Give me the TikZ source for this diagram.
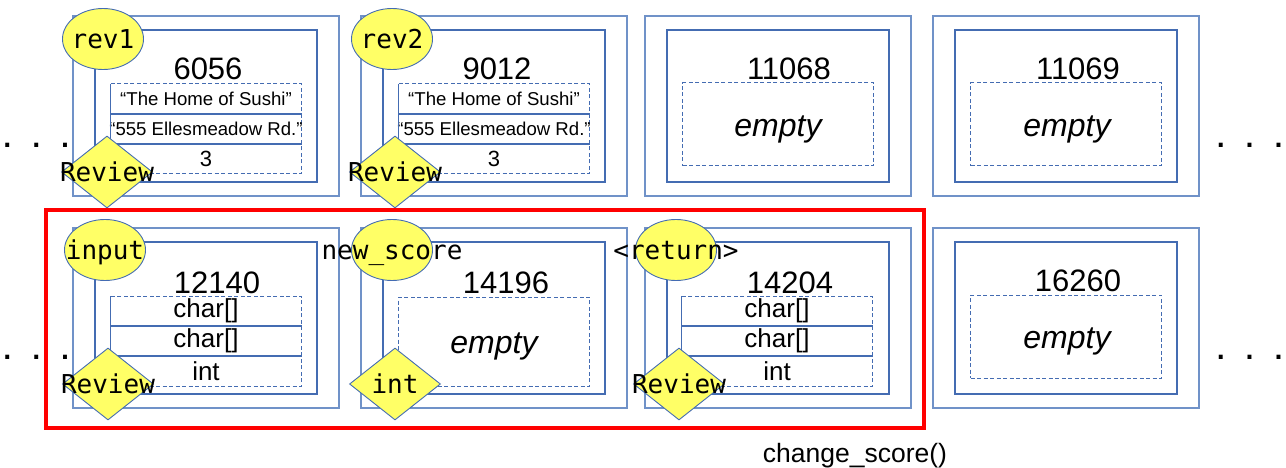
\documentclass[tikz,border=0pt]{standalone}
\usepackage{fontspec}
\setmainfont{Liberation Sans}
\setmonofont{DejaVu Sans Mono}
\usetikzlibrary{shapes.geometric,positioning}

\definecolor{outerline}{RGB}{112,146,200}
\definecolor{innerline}{RGB}{68,108,178}
\definecolor{varyellow}{RGB}{255,255,102}
\definecolor{callred}{RGB}{255,0,0}

\tikzset{
  outerbox/.style={draw=outerline, line width=1.2pt, minimum width=266pt,
    minimum height=180pt, inner sep=0pt, outer sep=0pt},
  innerbox/.style={draw=innerline, line width=1.2pt, minimum width=222pt,
    minimum height=152pt, inner sep=0pt, outer sep=0pt},
  slot/.style={draw=innerline, line width=1pt, dash pattern=on 4pt off 2.5pt,
    minimum width=191pt, minimum height=83pt, inner sep=0pt, outer sep=0pt},
  cell/.style={minimum width=191pt, minimum height=30pt, inner sep=0pt, outer sep=0pt},
  rowline/.style={draw=innerline, line width=1.1pt},
  addr/.style={font=\fontsize{31}{31}\selectfont, inner sep=0pt, anchor=base},
  emptytxt/.style={font=\fontsize{32}{32}\selectfont\itshape, inner sep=0pt, anchor=base},
  varell/.style={ellipse, draw=innerline, line width=0.9pt, fill=varyellow,
    minimum width=81pt, minimum height=61pt, inner sep=0pt},
  vardia/.style={diamond, draw=innerline, line width=0.9pt, fill=varyellow,
    minimum width=91pt, minimum height=72pt, inner sep=0pt},
  vartxt/.style={font=\fontsize{26}{26}\selectfont\ttfamily, inner sep=0pt,
    text height=19pt, text depth=0pt},
  callframe/.style={draw=callred, line width=4pt, minimum width=878pt,
    minimum height=218pt, inner sep=0pt},
  dots/.style={font=\fontsize{24}{24}\selectfont\ttfamily\bfseries, inner sep=0pt},
}

\begin{document}
\begin{tikzpicture}[x=1pt,y=-1pt]
  \useasboundingbox (0,0) rectangle (1286,468);

  % memory blocks, two rows
  \node[outerbox] (o1) at (206,106) {};
  \node[outerbox] (o2) at (494,106) {};
  \node[outerbox] (o3) at (778,106) {};
  \node[outerbox] (o4) at (1066,106) {};
  \node[outerbox] (o5) at (206,318) {};
  \node[outerbox] (o6) at (494,318) {};
  \node[outerbox] (o7) at (778,318) {};
  \node[outerbox] (o8) at (1066,318) {};
  \node[innerbox] (i1) at (o1) {};
  \node[innerbox] (i2) at (o2) {};
  \node[innerbox] (i3) at (o3) {};
  \node[innerbox] (i4) at (o4) {};
  \node[innerbox] (i5) at (o5) {};
  \node[innerbox] (i6) at (o6) {};
  \node[innerbox] (i7) at (o7) {};
  \node[innerbox] (i8) at (o8) {};

  % contents
  \node[slot, minimum height=90pt] (s1) at (206,129) {};
  \node[slot, minimum height=90pt] (s2) at (494,129) {};
  \node[slot] (s3) at (778,124.5) {};
  \node[slot] (s4) at (1066,124.5) {};
  \node[slot, minimum height=90pt] (s5) at (206,341) {};
  \node[slot, minimum height=89pt] (s6) at (494,341.5) {};
  \node[slot, minimum height=90pt] (s7) at (777,341) {};
  \node[slot] (s8) at (1066,336.5) {};

  \node[cell, font=\fontsize{18.6}{18.6}\selectfont, below=0pt of s1.north] (c11) {“The Home of Sushi”};
  \node[cell, font=\fontsize{18.6}{18.6}\selectfont, below=0pt of c11] (c12) {“555 Ellesmeadow Rd.”};
  \node[cell, font=\fontsize{22}{22}\selectfont, below=0pt of c12] (c13) {3};
  \node[cell, font=\fontsize{18.6}{18.6}\selectfont, below=0pt of s2.north] (c21) {“The Home of Sushi”};
  \node[cell, font=\fontsize{18.6}{18.6}\selectfont, below=0pt of c21] (c22) {“555 Ellesmeadow Rd.”};
  \node[cell, font=\fontsize{22}{22}\selectfont, below=0pt of c22] (c23) {3};
  \node[cell, font=\fontsize{26}{26}\selectfont, below=0pt of s5.north] (c51) {char[]};
  \node[cell, font=\fontsize{26}{26}\selectfont, below=0pt of c51] (c52) {char[]};
  \node[cell, font=\fontsize{26}{26}\selectfont, below=0pt of c52] (c53) {int};
  \node[cell, font=\fontsize{26}{26}\selectfont, below=0pt of s7.north] (c71) {char[]};
  \node[cell, font=\fontsize{26}{26}\selectfont, below=0pt of c71] (c72) {char[]};
  \node[cell, font=\fontsize{26}{26}\selectfont, below=0pt of c72] (c73) {int};
  \draw[rowline] (s1.north west) -- (s1.south west)
    (c11.south -| s1.west) -- (c11.south -| s1.east)
    (c12.south -| s1.west) -- (c12.south -| s1.east);
  \draw[rowline] (s2.north west) -- (s2.south west)
    (c21.south -| s2.west) -- (c21.south -| s2.east)
    (c22.south -| s2.west) -- (c22.south -| s2.east);
  \draw[rowline] (s5.north west) -- (s5.south west)
    (c51.south -| s5.west) -- (c51.south -| s5.east)
    (c52.south -| s5.west) -- (c52.south -| s5.east);
  \draw[rowline] (s7.north west) -- (s7.south west)
    (c71.south -| s7.west) -- (c71.south -| s7.east)
    (c72.south -| s7.west) -- (c72.south -| s7.east);

  \node[emptytxt] (e3) at (778,137) {empty};
  \node[emptytxt] (e4) at (1067,137) {empty};
  \node[emptytxt] (e6) at (494,353) {empty};
  \node[emptytxt] (e8) at (1067,348) {empty};

  % addresses
  \node[addr] (a1) at (208,80) {6056};
  \node[addr] (a2) at (497,80) {9012};
  \node[addr] (a3) at (789,80) {11068};
  \node[addr] (a4) at (1078,80) {11069};
  \node[addr] (a5) at (217,293) {12140};
  \node[addr] (a6) at (506,293) {14196};
  \node[addr] (a7) at (790,293) {14204};
  \node[addr] (a8) at (1078,291) {16260};

  % names and types
  \node[varell] (v1) at (103,39) {};
  \node[varell] (v2) at (392,39) {};
  \node[varell] (v5) at (105,250) {};
  \node[varell] (v6) at (392,250) {};
  \node[varell] (v7) at (676,250) {};
  \node[vardia] (d1) at (107,172) {};
  \node[vardia] (d2) at (395,172) {};
  \node[vardia] (d5) at (108,384) {};
  \node[vardia] (d6) at (395,384) {};
  \node[vardia] (d7) at (679,384) {};
  \node[vartxt] (n1) at (v1) {rev1};
  \node[vartxt] (n2) at (v2) {rev2};
  \node[vartxt] (n5) at (v5) {input};
  \node[vartxt] (n6) at (v6) {new\_score};
  \node[vartxt] (n7) at (v7) {<return>};
  \node[vartxt] (t1) at (d1) {Review};
  \node[vartxt] (t2) at (d2) {Review};
  \node[vartxt] (t5) at (d5) {Review};
  \node[vartxt] (t6) at (d6) {int};
  \node[vartxt] (t7) at (d7) {Review};

  % stack frame of the call
  \node[callframe] (call) at (485,319) {};
  \node[inner sep=0pt, anchor=base, font=\fontsize{26.5}{26.5}\selectfont] (fn) at (855,462) {change\_score()};

  \node[dots, anchor=base west] (l1) at (0,148) {. . .};
  \node[dots, anchor=base west] (l2) at (0,359) {. . .};
  \node[dots, anchor=base east] (r1) at (1286,148) {. . .};
  \node[dots, anchor=base east] (r2) at (1286,359) {. . .};
\end{tikzpicture}
\end{document}
